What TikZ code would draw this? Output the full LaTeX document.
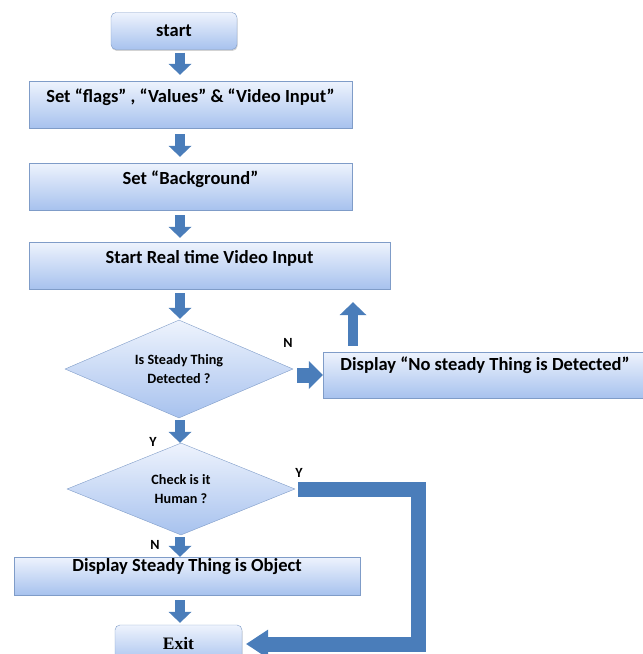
\documentclass[tikz,border=0pt]{standalone}
\usepackage{fontspec}
\setmainfont{Carlito}
\newfontfamily\exitfont{Liberation Serif}
\usetikzlibrary{positioning,shapes.geometric,arrows.meta,shadows}
\definecolor{boxtop}{HTML}{EEF3FD}
\definecolor{boxbot}{HTML}{A7C2EE}
\definecolor{boxline}{HTML}{7F9CC8}
\definecolor{arrowblue}{HTML}{4A7DBA}
\tikzset{%
  shade box/.style={draw=boxline, top color=boxtop, bottom color=boxbot, inner sep=0pt},
  box/.style={shade box, minimum height=47pt, text height=12pt, text depth=14pt,
    font=\bfseries\fontsize{18.5}{22}\selectfont,
    drop shadow={shadow xshift=0.6pt, shadow yshift=-1.4pt, opacity=0.35}},
  terminal/.style={box, rounded corners=5pt, minimum height=37pt, text height=, text depth=},
  decision/.style={shade box, diamond, aspect=2.4, align=center, minimum width=228pt,
    font=\bfseries\fontsize{14.2}{18.5}\selectfont},
  lbl/.style={font=\bfseries\fontsize{14}{16}\selectfont, inner sep=0pt},
  blk/.style={arrowblue, line width=10pt,
    -{Triangle[width=23pt,length=11pt,line width=0pt]}},
  fatblk/.style={arrowblue, line width=15pt,
    -{Triangle[width=28pt,length=14pt,line width=0pt]}}
}

\begin{document}
\begin{tikzpicture}[x=1pt,y=-1pt]
    \useasboundingbox (0,0) rectangle (643,654);

    % Boxes and decisions
    \node[terminal, minimum width=126pt] (start) at (174,31) {start};
    \node[box, minimum width=323pt, text depth=17pt] (flags) at (190.5,104.5)
        {Set “flags” , “Values” \& “Video Input”};
    \node[box, minimum width=323pt, text depth=17pt] (bgnd) at (190.5,186.5) {Set “Background”};
    \node[box, minimum width=361pt, text depth=17pt] (live) at (209.5,265.5) {Start Real time Video Input};
    \node[decision, minimum height=98pt] (steady) at (179,369) {Is Steady Thing\\Detected ?};
    \node[box, minimum width=324pt, minimum height=46pt, text depth=22pt] (nobox) at (485,375)
        {Display “No steady Thing is Detected”};
    \node[decision, minimum height=92pt] (human) at (181,489) {Check is it\\Human ?};
    \node[box, minimum width=346pt, minimum height=38pt, text depth=22pt] (object) at (187,576)
        {Display Steady Thing is Object};
    \node[terminal, minimum width=127pt, minimum height=38pt,
          font=\exitfont\bfseries\fontsize{17.5}{20}\selectfont] (exit) at (178.5,644) {Exit};

    % Branch labels
    \node[lbl] (lblN1) at (288,343) {N};
    \node[lbl] (lblY1) at (153,442) {Y};
    \node[lbl] (lblY2) at (299,473) {Y};
    \node[lbl] (lblN2) at (155,545) {N};

    % Block arrows down the main line
    \coordinate (stem) at (180,0);
    \foreach \a/\b/\s/\e in {start/flags/3/6, flags/bgnd/6/6, bgnd/live/5/4, live/steady/4/1,
                             steady/human/2/0, human/object/2/0, object/exit/5/2}
        {
        \draw[blk, shorten <=\s pt, shorten >=\e pt] (\a.south -| stem) -- (\b.north -| stem);
        }

    % No branch and loop back
    \draw[fatblk, shorten <=4pt] (steady.east |- nobox.west) -- (nobox.west);
    \coordinate (loop) at (353,0);
    \draw[blk, -{Triangle[width=27pt,length=13pt,line width=0pt]}, shorten <=6pt, shorten >=13pt]
        (nobox.north -| loop) -- (loop |- live.south);

    % Human branch to exit
    \coordinate (bend) at (418,0);
    \draw[arrowblue, line width=15pt, line join=miter,
          -{Triangle[width=29pt,length=22pt,line width=0pt]}, shorten <=3pt, shorten >=4pt]
        (human.east) -- (human.east -| bend) -- (bend |- exit.east) -- (exit.east);

\end{tikzpicture}
\end{document}
